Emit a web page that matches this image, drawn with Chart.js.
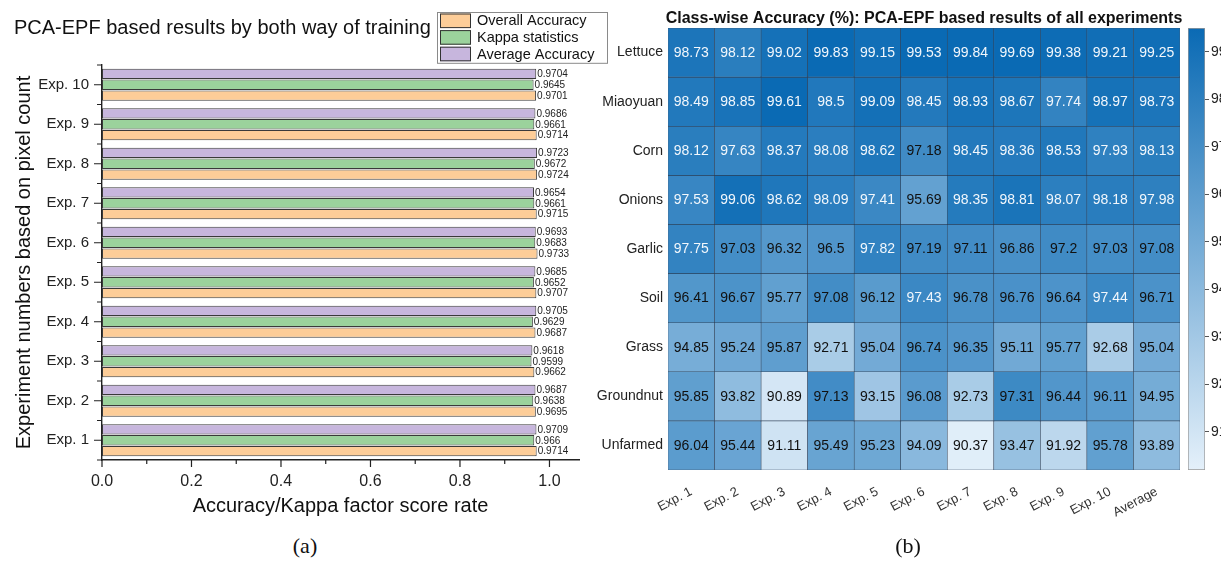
<!DOCTYPE html>
<html>
<head>
<meta charset="utf-8">
<title>PCA-EPF results</title>
<script src="https://cdn.jsdelivr.net/npm/chart.js@4/dist/chart.umd.min.js"></script>
<style>
  html, body { margin: 0; padding: 0; background: #fff; width: 1221px; height: 563px; overflow: hidden; }
  .panel { position: absolute; }
  .caption { position: absolute; font-family: "Liberation Serif", "DejaVu Serif", serif; font-size: 22px; color: #111; transform: translateX(-50%); }
</style>
</head>
<body>
<div class="panel" style="left:0;top:0;width:610px;height:530px"><canvas id="barChart"></canvas></div>
<div class="panel" style="left:580px;top:0;width:610px;height:535px"><canvas id="heatChart"></canvas></div>
<div class="panel" style="left:1180px;top:0;width:70px;height:563px"><canvas id="scaleChart"></canvas></div>
<div class="caption" style="left:305px;top:533px">(a)</div>
<div class="caption" style="left:908px;top:533px">(b)</div>
<script>
// ---------- panel (a): overall / kappa / average per experiment ----------
const experiments = ['Exp. 1', 'Exp. 2', 'Exp. 3', 'Exp. 4', 'Exp. 5', 'Exp. 6', 'Exp. 7', 'Exp. 8', 'Exp. 9', 'Exp. 10'];
const overallAccuracy = [0.9714, 0.9695, 0.9662, 0.9687, 0.9707, 0.9733, 0.9715, 0.9724, 0.9714, 0.9701];
const kappaStatistics = [0.966, 0.9638, 0.9599, 0.9629, 0.9652, 0.9683, 0.9661, 0.9672, 0.9661, 0.9645];
const averageAccuracy = [0.9709, 0.9687, 0.9618, 0.9705, 0.9685, 0.9693, 0.9654, 0.9723, 0.9686, 0.9704];
const scoreMajorTicks = [0, 0.2, 0.4, 0.6, 0.8, 1.0];
const scoreMinorTicks = [0.1, 0.3, 0.5, 0.7, 0.9];
const scoreAxisMax = 1.066;

// ---------- panel (b): class-wise accuracy (%) ----------
const classNames = ['Lettuce', 'Miaoyuan', 'Corn', 'Onions', 'Garlic', 'Soil', 'Grass', 'Groundnut', 'Unfarmed'];
const heatColumns = ['Exp. 1', 'Exp. 2', 'Exp. 3', 'Exp. 4', 'Exp. 5', 'Exp. 6', 'Exp. 7', 'Exp. 8', 'Exp. 9', 'Exp. 10', 'Average'];
const lettuceAcc   = [98.73, 98.12, 99.02, 99.83, 99.15, 99.53, 99.84, 99.69, 99.38, 99.21, 99.25];
const miaoyuanAcc  = [98.49, 98.85, 99.61, 98.5, 99.09, 98.45, 98.93, 98.67, 97.74, 98.97, 98.73];
const cornAcc      = [98.12, 97.63, 98.37, 98.08, 98.62, 97.18, 98.45, 98.36, 98.53, 97.93, 98.13];
const onionsAcc    = [97.53, 99.06, 98.62, 98.09, 97.41, 95.69, 98.35, 98.81, 98.07, 98.18, 97.98];
const garlicAcc    = [97.75, 97.03, 96.32, 96.5, 97.82, 97.19, 97.11, 96.86, 97.2, 97.03, 97.08];
const soilAcc      = [96.41, 96.67, 95.77, 97.08, 96.12, 97.43, 96.78, 96.76, 96.64, 97.44, 96.71];
const grassAcc     = [94.85, 95.24, 95.87, 92.71, 95.04, 96.74, 96.35, 95.11, 95.77, 92.68, 95.04];
const groundnutAcc = [95.85, 93.82, 90.89, 97.13, 93.15, 96.08, 92.73, 97.31, 96.44, 96.11, 94.95];
const unfarmedAcc  = [96.04, 95.44, 91.11, 95.49, 95.23, 94.09, 90.37, 93.47, 91.92, 95.78, 93.89];
const heatRows = [lettuceAcc, miaoyuanAcc, cornAcc, onionsAcc, garlicAcc, soilAcc, grassAcc, groundnutAcc, unfarmedAcc];
const colorbarTicks = [91, 92, 93, 94, 95, 96, 97, 98, 99];
const colorLimits = [90.2, 99.5];

Chart.defaults.font.family = '"Liberation Sans", Arial, Helvetica, sans-serif';
Chart.defaults.color = '#222';

// blue sequential colour map
const lightBlue = [228, 240, 250];
const darkBlue = [10, 106, 180];
function blueFor(v) {
  let t = (v - colorLimits[0]) / (colorLimits[1] - colorLimits[0]);
  t = Math.max(0, Math.min(1, t));
  const c = lightBlue.map((l, i) => Math.round(l + (darkBlue[i] - l) * t));
  return `rgb(${c[0]},${c[1]},${c[2]})`;
}

// ---- panel (a) helpers ----
const barTitle = {
  id: 'barTitle',
  afterDraw(chart) {
    const ctx = chart.ctx;
    ctx.save();
    ctx.font = '20px "Liberation Sans", Arial, sans-serif';
    ctx.fillStyle = '#111';
    ctx.textBaseline = 'middle';
    ctx.textAlign = 'left';
    ctx.fillText('PCA-EPF based results by both way of training', 14, 28);
    ctx.restore();
  }
};

const boxedLegend = {
  id: 'boxedLegend',
  afterDraw(chart) {
    const ctx = chart.ctx;
    const left = 437, top = 12, w = 170, rowH = 16.6;
    const items = chart.data.datasets.slice().reverse();
    ctx.save();
    ctx.fillStyle = '#fff';
    ctx.fillRect(left, top, w, rowH * items.length + 1);
    ctx.strokeStyle = '#8a8a8a';
    ctx.lineWidth = 1;
    ctx.strokeRect(left + 0.5, top + 0.5, w, rowH * items.length + 1);
    ctx.font = '14.5px "Liberation Sans", Arial, sans-serif';
    ctx.textBaseline = 'middle';
    items.forEach((ds, i) => {
      const y = top + 1.5 + i * rowH;
      ctx.fillStyle = ds.backgroundColor;
      ctx.fillRect(left + 3, y, 31, rowH - 2);
      ctx.strokeStyle = '#333';
      ctx.strokeRect(left + 3.5, y + 0.5, 30, rowH - 3);
      ctx.fillStyle = '#111';
      ctx.fillText(ds.label, left + 40, y + rowH / 2 - 0.5);
    });
    ctx.restore();
  }
};

const barValueLabels = {
  id: 'barValueLabels',
  afterDatasetsDraw(chart) {
    const ctx = chart.ctx;
    ctx.save();
    ctx.font = '10px "Liberation Sans", Arial, sans-serif';
    ctx.fillStyle = '#222';
    ctx.textBaseline = 'middle';
    ctx.textAlign = 'left';
    chart.data.datasets.forEach((ds, di) => {
      chart.getDatasetMeta(di).data.forEach((bar, i) => {
        const p = bar.getProps(['x', 'y'], true);
        ctx.fillText(String(ds.data[i]), p.x + 1, p.y + 0.5);
      });
    });
    ctx.restore();
  }
};

// major and minor tick marks on both axes
const axisTicks = {
  id: 'axisTicks',
  afterDraw(chart) {
    const { ctx, scales: { x, y }, chartArea: a } = chart;
    ctx.save();
    ctx.strokeStyle = '#222';
    ctx.lineWidth = 1.2;
    ctx.beginPath();
    scoreMajorTicks.forEach(v => { const px = x.getPixelForValue(v); ctx.moveTo(px, a.bottom); ctx.lineTo(px, a.bottom + 7); });
    scoreMinorTicks.forEach(v => { const px = x.getPixelForValue(v); ctx.moveTo(px, a.bottom); ctx.lineTo(px, a.bottom + 4); });
    experiments.forEach((_, i) => {
      const py = y.getPixelForValue(i);
      ctx.moveTo(a.left, py); ctx.lineTo(a.left - 8, py);
    });
    for (let i = 0; i <= experiments.length; i++) {
      const py = y.getPixelForValue(i - 0.5);
      ctx.moveTo(a.left, py); ctx.lineTo(a.left - 5, py);
    }
    ctx.stroke();
    ctx.restore();
  }
};

new Chart(document.getElementById('barChart'), {
  type: 'bar',
  data: {
    labels: experiments,
    datasets: [
      { label: 'Average Accuracy', data: averageAccuracy, backgroundColor: '#c7b6dd' },
      { label: 'Kappa statistics', data: kappaStatistics, backgroundColor: '#9bd29c' },
      { label: 'Overall Accuracy', data: overallAccuracy, backgroundColor: '#fdcd98' }
    ]
  },
  options: {
    indexAxis: 'y',
    responsive: true,
    maintainAspectRatio: false,
    animation: false,
    datasets: { bar: { borderColor: '#3a3a3a', borderWidth: 1, borderSkipped: false, categoryPercentage: 0.82, barPercentage: 0.95 } },
    layout: { padding: { top: 65, right: 31, left: 0, bottom: 8 } },
    plugins: { legend: { display: false }, tooltip: { enabled: false } },
    scales: {
      x: {
        min: 0, max: scoreAxisMax,
        afterBuildTicks: s => { s.ticks = scoreMajorTicks.map(v => ({ value: v })); },
        ticks: { callback: v => Number(v).toFixed(1), font: { size: 16 }, color: '#222', padding: 12, maxRotation: 0 },
        grid: { display: false, drawTicks: false },
        border: { display: true, color: '#222', width: 1.4 },
        title: { display: true, text: 'Accuracy/Kappa factor score rate', font: { size: 20 }, color: '#111', padding: { top: 2, bottom: 4 } },
        afterFit: s => { s.height = 62; }
      },
      y: {
        reverse: true,
        grid: { display: false, drawTicks: false },
        border: { display: true, color: '#222', width: 1.4 },
        ticks: { font: { size: 15 }, color: '#222', padding: 13 },
        title: { display: true, text: 'Experiment numbers based on pixel count', font: { size: 20 }, color: '#111', padding: { top: 12, bottom: 4 } },
        afterFit: s => { s.width = 102; }
      }
    }
  },
  plugins: [axisTicks, barValueLabels, barTitle, boxedLegend]
});

// ---- panel (b): heat map built from stacked unit bars ----
const cellLabels = {
  id: 'cellLabels',
  afterDatasetsDraw(chart) {
    const ctx = chart.ctx;
    ctx.save();
    ctx.font = '14px "Liberation Sans", Arial, sans-serif';
    ctx.textAlign = 'center';
    ctx.textBaseline = 'middle';
    chart.data.datasets.forEach((ds, r) => {
      chart.getDatasetMeta(r).data.forEach((bar, c) => {
        const v = heatRows[r][c];
        const p = bar.getProps(['x', 'y', 'base'], true);
        ctx.fillStyle = v >= 97.35 ? '#f2f7fc' : '#111';
        ctx.fillText(String(v), p.x, (p.y + p.base) / 2 + 0.5);
      });
    });
    ctx.restore();
  }
};

const heatTitle = {
  id: 'heatTitle',
  afterDraw(chart) {
    const { ctx, chartArea: a } = chart;
    ctx.save();
    ctx.font = 'bold 16px "Liberation Sans", Arial, sans-serif';
    ctx.fillStyle = '#111';
    ctx.textAlign = 'center';
    ctx.textBaseline = 'middle';
    ctx.fillText('Class-wise Accuracy (%): PCA-EPF based results of all experiments', (a.left + a.right) / 2, 19);
    ctx.restore();
  }
};

new Chart(document.getElementById('heatChart'), {
  type: 'bar',
  data: {
    labels: heatColumns,
    datasets: classNames.map((name, r) => ({
      label: name,
      data: heatRows[r].map(() => 1),
      backgroundColor: heatRows[r].map(blueFor),
      borderColor: 'rgba(30,50,75,0.85)',
      borderWidth: 0.6,
      borderSkipped: false,
      barPercentage: 1,
      categoryPercentage: 1
    }))
  },
  options: {
    responsive: true,
    maintainAspectRatio: false,
    animation: false,
    layout: { padding: { top: 28, right: 10, left: 0, bottom: 0 } },
    plugins: { legend: { display: false }, tooltip: { enabled: false } },
    scales: {
      x: {
        stacked: true,
        grid: { display: false, drawTicks: false },
        border: { display: false },
        ticks: { minRotation: 28, maxRotation: 28, autoSkip: false, font: { size: 13 }, color: '#333', padding: 14 },
        afterFit: s => { s.height = 65; }
      },
      y: {
        stacked: true,
        min: 0, max: classNames.length,
        reverse: true,
        grid: { display: false, drawTicks: false },
        border: { display: false },
        afterBuildTicks: s => { s.ticks = classNames.map((_, i) => ({ value: i + 0.5 })); },
        ticks: { autoSkip: false, callback: (v, i) => classNames[i], font: { size: 14 }, color: '#222', padding: 5 },
        afterFit: s => { s.width = 88; }
      }
    }
  },
  plugins: [cellLabels, heatTitle]
});

// ---- colour bar ----
new Chart(document.getElementById('scaleChart'), {
  type: 'bar',
  data: {
    labels: [''],
    datasets: [{
      data: [colorLimits],
      backgroundColor: c => {
        const { chart } = c;
        if (!chart.chartArea) return blueFor(colorLimits[0]);
        const y = chart.scales.y;
        const g = chart.ctx.createLinearGradient(0, y.getPixelForValue(colorLimits[0]), 0, y.getPixelForValue(colorLimits[1]));
        g.addColorStop(0, blueFor(colorLimits[0]));
        g.addColorStop(1, blueFor(colorLimits[1]));
        return g;
      },
      borderColor: '#9a9a9a',
      borderWidth: 1,
      borderSkipped: false,
      barPercentage: 1,
      categoryPercentage: 1
    }]
  },
  options: {
    responsive: true,
    maintainAspectRatio: false,
    animation: false,
    layout: { padding: { top: 28, bottom: 93, left: 8, right: 0 } },
    plugins: { legend: { display: false }, tooltip: { enabled: false } },
    scales: {
      x: { display: false },
      y: {
        position: 'right',
        min: colorLimits[0], max: colorLimits[1],
        afterBuildTicks: s => { s.ticks = colorbarTicks.map(v => ({ value: v })); },
        grid: { drawOnChartArea: false, drawTicks: true, tickLength: 4, color: '#555' },
        border: { display: false },
        ticks: { font: { size: 14 }, color: '#222', padding: 2 },
        afterFit: s => { s.width = 45; }
      }
    }
  }
});
</script>
</body>
</html>
